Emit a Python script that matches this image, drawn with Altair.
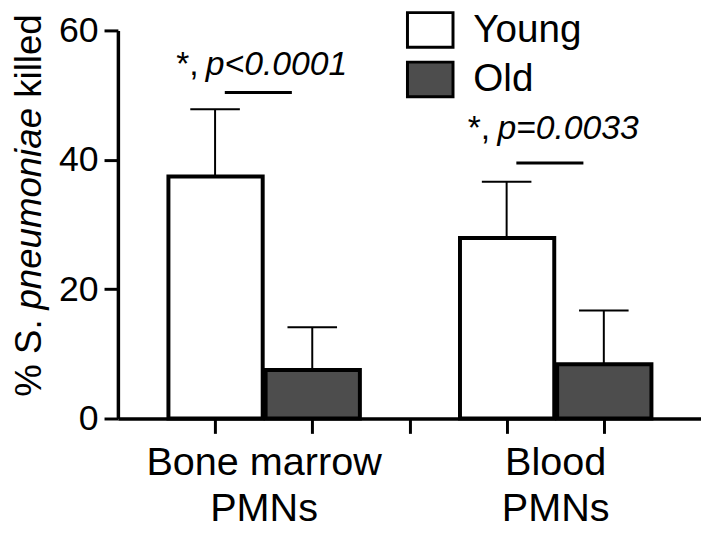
import altair as alt
import pandas as pd

# ---- data ----
cells = ["Bone marrow PMNs", "Blood PMNs"]
cell_lines = [["Bone marrow", "PMNs"], ["Blood", "PMNs"]]
ages = ["Young", "Old"]
age_colors = ["white", "#4d4d4d"]
means = {"Young": [37.4, 27.9], "Old": [7.5, 8.4]}
errs = {"Young": [10.4, 8.7], "Old": [6.6, 8.3]}
p_labels = ["p<0.0001", "p=0.0033"]
sig_y = [50.4, 39.5]
sig_text_y = [53.1, 43.2]
y_ticks = [0, 20, 40, 60]

FONT = "Liberation Sans"

rows = []
for gi, cell in enumerate(cells):
    for ai, age in enumerate(ages):
        pos = gi * 3 + ai + 1
        m = means[age][gi]
        e = errs[age][gi]
        rows.append(dict(cell=cell, age=age, mean=m, err=e, pos=pos,
                         left=pos - 0.48, right=pos + 0.49, top=m + e,
                         capL=pos - 0.255, capR=pos + 0.255))
df = pd.DataFrame(rows)

sig_rows = []
for gi, cell in enumerate(cells):
    y_pos = gi * 3 + 1
    o_pos = gi * 3 + 2
    sig_rows.append(dict(cell=cell, x1=y_pos + 0.10, x2=o_pos - 0.21, y=sig_y[gi],
                         star_x=y_pos - 0.40, p_x=y_pos - 0.095, ty=sig_text_y[gi],
                         star="*,", p=p_labels[gi]))
sig = pd.DataFrame(sig_rows)

label_expr = "datum.value == 1 ? ['%s','%s'] : datum.value == 4 ? ['%s','%s'] : ''" % (
    cell_lines[0][0], cell_lines[0][1], cell_lines[1][0], cell_lines[1][1])

xscale = alt.Scale(domain=[0, 6], nice=False, zero=False)
yscale = alt.Scale(domain=[0, 60], nice=False)

xaxis = alt.Axis(values=[1, 2, 3, 4, 5], labelExpr=label_expr, labelOffset=49,
                 tickSize=15, tickWidth=3, domainWidth=3.5, labelPadding=10,
                 labelLineHeight=46, labelFontSize=40, labelOverlap=False,
                 labelLimit=0, labelBound=False, labelFlush=False, title=None, grid=False)
yaxis = alt.Axis(values=y_ticks, tickSize=14, tickWidth=3, domainWidth=3.5,
                 labelPadding=6, labelFontSize=36, title=None, grid=False,
                 labelFlush=False)

base = alt.Chart(df)

stems = base.mark_rule(strokeWidth=2, color="black").encode(
    x=alt.X("pos:Q", scale=xscale, axis=xaxis),
    y=alt.Y("mean:Q", scale=yscale, axis=yaxis),
    y2="top:Q",
)
caps = base.mark_rule(strokeWidth=2, color="black").encode(
    x=alt.X("capL:Q", scale=xscale), x2="capR:Q", y=alt.Y("top:Q", scale=yscale)
)
bars = base.mark_bar(stroke="black", strokeWidth=4, opacity=1).encode(
    x=alt.X("left:Q", scale=xscale, axis=xaxis),
    x2="right:Q",
    y=alt.Y("mean:Q", scale=yscale, axis=yaxis),
    y2=alt.datum(0),
    color=alt.Color("age:N", scale=alt.Scale(domain=ages, range=age_colors),
                    legend=alt.Legend(title=None, orient="none", legendX=291, legendY=-25,
                                      symbolType="M-1,-0.76H1V0.76H-1Z", symbolSize=2116,
                                      symbolStrokeColor="black", symbolStrokeWidth=3,
                                      symbolOpacity=1, labelFontSize=39, labelFont=FONT,
                                      labelColor="black", labelOffset=19, rowPadding=2,
                                      padding=0, labelLimit=0)),
)

sbase = alt.Chart(sig)
sig_lines = sbase.mark_rule(strokeWidth=3, color="black").encode(
    x=alt.X("x1:Q", scale=xscale), x2="x2:Q", y=alt.Y("y:Q", scale=yscale)
)
stars = sbase.mark_text(font=FONT, fontSize=34, align="left", baseline="alphabetic",
                        color="black").encode(
    x=alt.X("star_x:Q", scale=xscale), y=alt.Y("ty:Q", scale=yscale), text="star:N"
)
ptext = sbase.mark_text(font=FONT, fontSize=34, fontStyle="italic", align="left",
                        baseline="alphabetic", color="black").encode(
    x=alt.X("p_x:Q", scale=xscale), y=alt.Y("ty:Q", scale=yscale), text="p:N"
)

# y-axis title with italic species name
one = alt.Chart(pd.DataFrame({"a": [0]}))
title_kw = dict(font=FONT, fontSize=37, angle=270, align="left", baseline="alphabetic",
                color="black")
t1 = one.mark_text(text="% S.", **title_kw).encode(x=alt.value(-78), y=alt.value(370))
t2 = one.mark_text(text="pneumoniae", fontStyle="italic", **title_kw).encode(
    x=alt.value(-78), y=alt.value(282))
t3 = one.mark_text(text="killed", **title_kw).encode(x=alt.value(-78), y=alt.value(68))

chart = alt.layer(stems, caps, bars, sig_lines, stars, ptext, t1, t2, t3).properties(
    width=589, height=392,
    autosize=alt.AutoSizeParams(type="none"),
    padding={"left": 111, "top": 20, "right": 0, "bottom": 112},
).configure_view(stroke=None).configure_axis(
    labelFont=FONT, labelColor="black", domainColor="black", tickColor="black"
)

chart.save("out.html", embed_options={"renderer": "svg", "actions": False})
